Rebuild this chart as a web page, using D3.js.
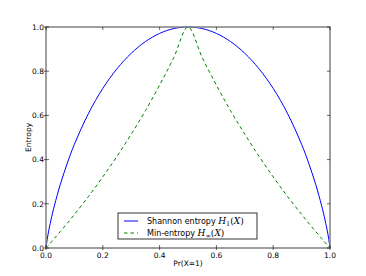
<!DOCTYPE html>
<html>
<head>
<meta charset="utf-8">
<script src="https://cdn.jsdelivr.net/npm/d3@7"></script>
<style>
body { margin: 0; background: #fff; }
text { font-family: "DejaVu Sans", sans-serif; fill: #000; }
</style>
</head>
<body>
<div class="canvas"></div>
<script>
// values
const probs = [0, 0.005, 0.01, 0.02, 0.03, 0.05, 0.075, 0.1, 0.15, 0.2, 0.25, 0.3, 0.35, 0.4, 0.45, 0.5,
  0.55, 0.6, 0.65, 0.7, 0.75, 0.8, 0.85, 0.9, 0.925, 0.95, 0.97, 0.98, 0.99, 0.995, 1];
const shannon = [0, 0.045, 0.081, 0.141, 0.194, 0.286, 0.384, 0.469, 0.610, 0.722, 0.811, 0.881, 0.934, 0.971, 0.993, 1,
  0.993, 0.971, 0.934, 0.881, 0.811, 0.722, 0.610, 0.469, 0.384, 0.286, 0.194, 0.141, 0.081, 0.045, 0];
const minEntropy = [0, 0.007, 0.014, 0.029, 0.044, 0.074, 0.112, 0.152, 0.234, 0.322, 0.415, 0.515, 0.621, 0.737, 0.862, 1,
  0.862, 0.737, 0.621, 0.515, 0.415, 0.322, 0.234, 0.152, 0.112, 0.074, 0.044, 0.029, 0.014, 0.007, 0];
const xTicks = [0, 0.2, 0.4, 0.6, 0.8, 1.0];
const yTicks = [0, 0.2, 0.4, 0.6, 0.8, 1.0];

const dims = { width: 366, height: 276 };
const margin = { left: 46, right: 36, top: 27, bottom: 28 };

const svg = d3.select(".canvas")
  .append("svg")
  .attr("width", dims.width)
  .attr("height", dims.height);

const x = d3.scaleLinear().domain([0, 1]).range([margin.left, dims.width - margin.right]);
const y = d3.scaleLinear().domain([0, 1]).range([dims.height - margin.bottom, margin.top]);

const line = (vals) => d3.line()
  .x((d, i) => x(probs[i]))
  .y(d => y(d))
  .curve(d3.curveCatmullRom)(vals);

// curves
svg.append("path")
  .attr("d", line(shannon))
  .attr("fill", "none")
  .attr("stroke", "#0000ff")
  .attr("stroke-width", 1);

svg.append("path")
  .attr("d", line(minEntropy))
  .attr("fill", "none")
  .attr("stroke", "#008000")
  .attr("stroke-width", 1)
  .attr("stroke-dasharray", "3.5,3");

// frame
svg.append("rect")
  .attr("x", x(0)).attr("y", y(1))
  .attr("width", x(1) - x(0)).attr("height", y(0) - y(1))
  .attr("fill", "none")
  .attr("stroke", "#808080")
  .attr("stroke-width", 1.5);

// ticks (in and out like the picture)
const ticks = svg.append("g").attr("stroke", "#000").attr("stroke-width", 0.6);
xTicks.forEach(t => {
  ticks.append("line").attr("x1", x(t)).attr("x2", x(t)).attr("y1", y(0) - 3).attr("y2", y(0) + 2);
  ticks.append("line").attr("x1", x(t)).attr("x2", x(t)).attr("y1", y(1)).attr("y2", y(1) + 3);
});
yTicks.forEach(t => {
  ticks.append("line").attr("x1", x(0) - 2).attr("x2", x(0) + 3).attr("y1", y(t)).attr("y2", y(t));
  ticks.append("line").attr("x1", x(1) - 3).attr("x2", x(1)).attr("y1", y(t)).attr("y2", y(t));
});

svg.append("g").selectAll("text")
  .data(xTicks).enter().append("text")
  .attr("x", d => x(d)).attr("y", y(0) + 10)
  .attr("text-anchor", "middle")
  .attr("font-size", 7.5)
  .text(d => d.toFixed(1));

svg.append("g").selectAll("text")
  .data(yTicks).enter().append("text")
  .attr("x", x(0) - 2).attr("y", d => y(d) + 2.8)
  .attr("text-anchor", "end")
  .attr("font-size", 7.5)
  .text(d => d.toFixed(1));

// axis labels
svg.append("text")
  .attr("x", (x(0) + x(1)) / 2).attr("y", dims.height - 10)
  .attr("text-anchor", "middle")
  .attr("font-size", 7.5)
  .text("Pr(X=1)");

svg.append("text")
  .attr("transform", `translate(31,${(y(0) + y(1)) / 2}) rotate(-90)`)
  .attr("text-anchor", "middle")
  .attr("font-size", 7.5)
  .text("Entropy");

// legend
const legendGroup = svg.append("g").attr("transform", "translate(118,213)");
legendGroup.append("rect")
  .attr("width", 139).attr("height", 26)
  .attr("fill", "#fff")
  .attr("stroke", "#000")
  .attr("stroke-width", 0.8);

const entries = [
  { name: "Shannon entropy ", sub: "1", color: "#0000ff", dash: null },
  { name: "Min-entropy ", sub: "\u221e", color: "#008000", dash: "3.5,3" }
];

entries.forEach((e, i) => {
  const ly = 8 + i * 12;
  legendGroup.append("line")
    .attr("x1", 6).attr("x2", 20).attr("y1", ly).attr("y2", ly)
    .attr("stroke", e.color).attr("stroke-width", 1)
    .attr("stroke-dasharray", e.dash);
  const t = legendGroup.append("text")
    .attr("x", 29).attr("y", ly + 3)
    .attr("font-size", 8);
  t.append("tspan").text(e.name);
  const m = { "font-family": "DejaVu Serif", "font-size": 9 };
  t.append("tspan").attr("font-family", m["font-family"]).attr("font-size", m["font-size"]).attr("font-style", "italic").text("H");
  t.append("tspan").attr("font-family", m["font-family"]).attr("font-size", 6.5).attr("dy", 1.8).text(e.sub);
  t.append("tspan").attr("font-family", m["font-family"]).attr("font-size", m["font-size"]).attr("dy", -1.8).text("(");
  t.append("tspan").attr("font-family", m["font-family"]).attr("font-size", m["font-size"]).attr("font-style", "italic").text("X");
  t.append("tspan").attr("font-family", m["font-family"]).attr("font-size", m["font-size"]).text(")");
});
</script>
</body>
</html>
